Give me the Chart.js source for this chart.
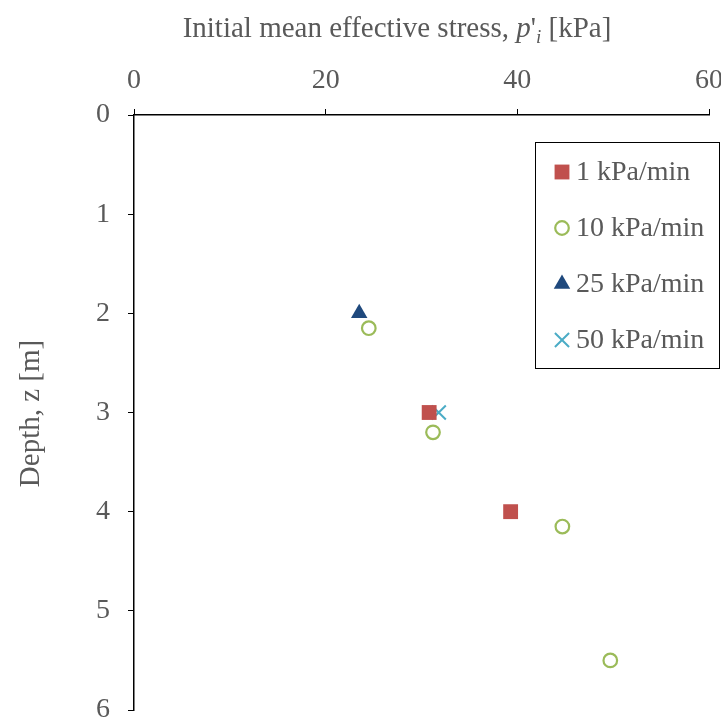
<!DOCTYPE html>
<html>
<head>
<meta charset="utf-8">
<script src="https://cdn.jsdelivr.net/npm/chart.js@4.4.0/dist/chart.umd.min.js"></script>
<style>
  html, body { margin: 0; padding: 0; background: #fff; }
  #wrap { width: 721px; height: 722px; }
</style>
</head>
<body>
<div id="wrap"><canvas id="grafico"></canvas></div>
<script>
// datos: p'i [kPa] y profundidad z [m] por velocidad de carga
const series = ["1 kPa/min", "10 kPa/min", "25 kPa/min", "50 kPa/min"];
const p1 = [30.8, 39.3];
const z1 = [3.0, 4.0];
const p10 = [24.5, 31.2, 44.7, 49.7];
const z10 = [2.15, 3.2, 4.15, 5.5];
const p25 = [23.5];
const z25 = [2.0];
const p50 = [31.8];
const z50 = [3.0];
const xTicks = [0, 20, 40, 60];
const yTicks = [0, 1, 2, 3, 4, 5, 6];

const FONT = "'Liberation Serif', 'Times New Roman', serif";
const GRIS = "#595959";

function puntos(xs, ys) {
  return xs.map((x, i) => ({ x: x, y: ys[i] }));
}

// sin relleno extra por etiquetas que sobresalen
function sinRelleno(s) {
  s.paddingLeft = 0; s.paddingRight = 0;
  s.paddingTop = 0; s.paddingBottom = 0;
}

// leyenda con recuadro dentro del área del gráfico
const leyenda = {
  id: "leyenda",
  afterDraw(chart) {
    const ctx = chart.ctx;
    const a = chart.chartArea;
    const x0 = a.right - 174, y0 = a.top + 27, w = 184, h = 226;
    ctx.save();
    ctx.strokeStyle = "#000";
    ctx.lineWidth = 1;
    ctx.strokeRect(x0 + 0.5, y0 + 0.5, w, h);
    chart.data.datasets.forEach((ds, i) => {
      const y = y0 + 30 + i * 56;
      ctx.fillStyle = ds.backgroundColor;
      ctx.strokeStyle = ds.borderColor;
      ctx.lineWidth = ds.borderWidth;
      Chart.helpers.drawPoint(ctx, {
        pointStyle: ds.pointStyle, radius: ds.pointRadius,
        rotation: 0, borderWidth: ds.borderWidth
      }, x0 + 27, y);
      ctx.fillStyle = GRIS;
      ctx.font = "28px " + FONT;
      ctx.textBaseline = "middle";
      ctx.textAlign = "left";
      ctx.fillText(ds.label, x0 + 41, y + 1);
    });
    ctx.restore();
  }
};

// títulos de los ejes (p'i con cursiva y subíndice)
const titulos = {
  id: "titulos",
  afterDraw(chart) {
    const ctx = chart.ctx;
    const a = chart.chartArea;
    ctx.save();
    ctx.fillStyle = GRIS;
    ctx.textBaseline = "alphabetic";
    const partes = [
      ["Initial mean effective stress, ", "29px " + FONT, 0],
      ["p", "italic 29px " + FONT, 0],
      ["'", "29px " + FONT, 0],
      ["i", "italic 19px " + FONT, 6],
      [" [kPa]", "29px " + FONT, 0]
    ];
    let total = 0;
    partes.forEach(p => { ctx.font = p[1]; total += ctx.measureText(p[0]).width; });
    let x = 397 - total / 2;
    ctx.textAlign = "left";
    partes.forEach(p => {
      ctx.font = p[1];
      ctx.fillText(p[0], x, 37 + p[2]);
      x += ctx.measureText(p[0]).width;
    });
    ctx.translate(31, (a.top + a.bottom) / 2 + 1);
    ctx.rotate(-Math.PI / 2);
    ctx.font = "29px " + FONT;
    ctx.textAlign = "center";
    ctx.textBaseline = "middle";
    ctx.fillText("Depth, z [m]", 0, 0);
    ctx.restore();
  }
};

const ctx = document.getElementById("grafico").getContext("2d");
new Chart(ctx, {
  type: "scatter",
  data: {
    datasets: [
      {
        label: series[0], data: puntos(p1, z1),
        pointStyle: "rect", pointRadius: 10.5, borderWidth: 0,
        backgroundColor: "#C0504D", borderColor: "#C0504D"
      },
      {
        label: series[1], data: puntos(p10, z10),
        pointStyle: "circle", pointRadius: 6.8, borderWidth: 2.2,
        backgroundColor: "rgba(255,255,255,0)", borderColor: "#9BBB59"
      },
      {
        label: series[2], data: puntos(p25, z25),
        pointStyle: "triangle", pointRadius: 9.5, borderWidth: 0,
        backgroundColor: "#1F497D", borderColor: "#1F497D"
      },
      {
        label: series[3], data: puntos(p50, z50),
        pointStyle: "crossRot", pointRadius: 10, borderWidth: 2,
        backgroundColor: "#4BACC6", borderColor: "#4BACC6"
      }
    ]
  },
  options: {
    responsive: true,
    maintainAspectRatio: false,
    animation: false,
    layout: { padding: { left: 0, top: 0, right: 12, bottom: 12 } },
    plugins: { legend: { display: false }, tooltip: { enabled: false } },
    elements: { point: { hoverRadius: 0 } },
    scales: {
      x: {
        type: "linear", position: "top", min: 0, max: 60,
        afterBuildTicks(s) { s.ticks = xTicks.map(v => ({ value: v })); },
        afterFit(s) { s.height = 115; sinRelleno(s); },
        grid: { drawOnChartArea: false, drawTicks: true, tickLength: 6, color: "#000" },
        border: { color: "#000", width: 1.5 },
        ticks: { color: GRIS, padding: 12, font: { family: FONT, size: 28 } }
      },
      y: {
        type: "linear", reverse: true, min: 0, max: 6,
        afterBuildTicks(s) { s.ticks = yTicks.map(v => ({ value: v })); },
        afterFit(s) { s.width = 134; sinRelleno(s); },
        grid: { drawOnChartArea: false, drawTicks: true, tickLength: 6, color: "#000" },
        border: { color: "#000", width: 1.5 },
        ticks: { color: GRIS, padding: 18, font: { family: FONT, size: 28 } }
      }
    }
  },
  plugins: [leyenda, titulos]
});
</script>
</body>
</html>
